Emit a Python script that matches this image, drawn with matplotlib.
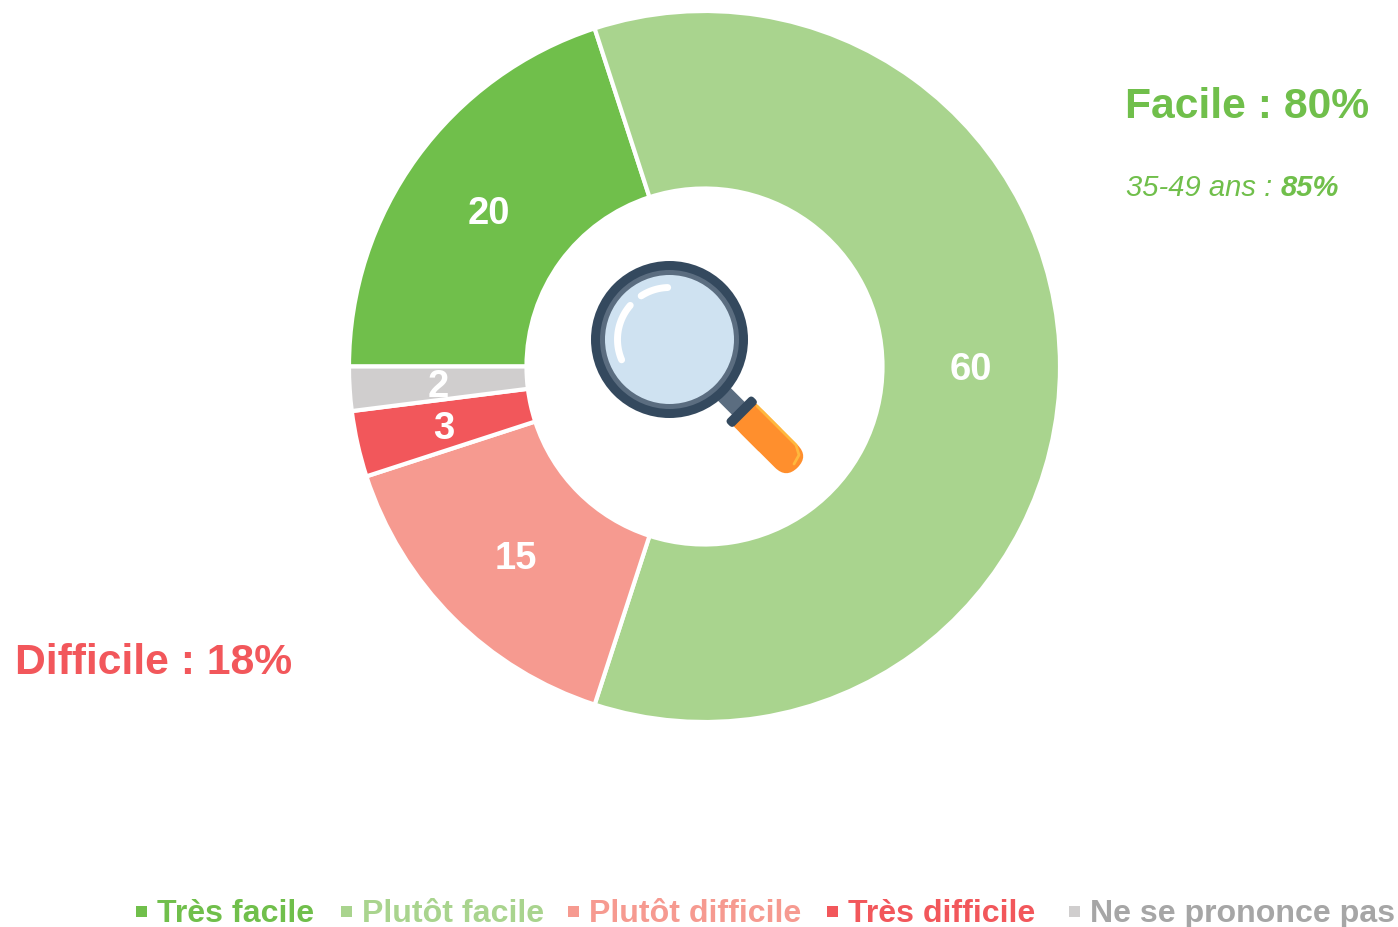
import numpy as np
import matplotlib
matplotlib.use("Agg")
import matplotlib.pyplot as plt
from matplotlib.patches import Circle, FancyBboxPatch, Wedge
from matplotlib.transforms import Affine2D

labels = ["Très facile", "Plutôt facile", "Plutôt difficile", "Très difficile", "Ne se prononce pas"]
values = [20, 60, 15, 3, 2]
colors = ["#70BF4B", "#A9D48E", "#F69A90", "#F2575B", "#D0CECE"]
text_colors = ["#70BF4B", "#A9D48E", "#F69A90", "#F2575B", "#A6A6A6"]
legend_x = [136, 341, 568, 827, 1069]

plt.rcParams["font.family"] = ["Liberation Sans", "DejaVu Sans"]

W, H = 1398, 927
fig = plt.figure(figsize=(W / 100, H / 100), dpi=100)
ax = fig.add_axes([0, 0, 1, 1])
ax.set_xlim(0, W)
ax.set_ylim(H, 0)
ax.axis("off")

# donut, y is flipped so the angles run clockwise
cx, cy, R, r = 704.5, 366.5, 355.5, 178
start = 180
for i, v in enumerate(values):
    end = start + v * 3.6
    ax.add_patch(Wedge((cx, cy), R, start, end, width=R - r, facecolor=colors[i],
                       edgecolor="white", linewidth=3))
    start = end

val_x = [489, 971, 516, 444, 438]
val_y = [214, 370, 559, 429, 387]
for i, v in enumerate(values):
    ax.text(val_x[i], val_y[i], str(v), color="white", fontsize=27.5, fontweight="bold",
            ha="center", va="center")

# magnifier
hx, hy = 741.7, 411.7
rot = Affine2D().rotate_deg_around(hx, hy, 45) + ax.transData
ax.add_patch(FancyBboxPatch((hx - 25, hy - 9), 25, 18, boxstyle="square,pad=0", fc="#5B6D80", ec="none", transform=rot))
ax.add_patch(FancyBboxPatch((hx, hy - 16), 79, 32, boxstyle="round,pad=0,rounding_size=16", fc="#FF8F2D", ec="none", transform=rot))
ax.add_patch(FancyBboxPatch((hx, hy - 16), 40, 32, boxstyle="square,pad=0", fc="#FF8F2D", ec="none", transform=rot))
ax.add_patch(FancyBboxPatch((hx - 5, hy - 18.5), 10, 37, boxstyle="round,pad=0,rounding_size=4", fc="#34495E", ec="none", transform=rot))
ax.plot([757, 796, 799, 794], [406, 445, 455, 464], color="#FFB83D", lw=2, solid_capstyle="round")
ax.add_patch(Circle((669.5, 339.5), 78.5, fc="#34495E", ec="none"))
ax.add_patch(Circle((669.5, 339.5), 69.5, fc="#5B6D80", ec="none"))
ax.add_patch(Circle((669.5, 339.5), 64.5, fc="#CFE2F1", ec="none"))
for a1, a2 in [(157, 221), (237, 268)]:
    th = np.radians(np.linspace(a1, a2, 30))
    ax.plot(669.5 + 52 * np.cos(th), 339.5 + 52 * np.sin(th), color="white", lw=5, solid_capstyle="round")

# annotations
ax.text(1125, 107, "Facile : 80%", color=colors[0], fontsize=30.7, fontweight="bold", va="center")
t = ax.text(1126, 188, "35-49 ans : ", color=colors[0], fontsize=21, style="italic", va="center")
ax.annotate("85%", xy=(1, 0.5), xycoords=t, color=colors[0], fontsize=21, style="italic",
            fontweight="bold", va="center")
ax.text(15, 663, "Difficile : 18%", color=colors[3], fontsize=30.7, fontweight="bold", va="center")

# legend
for i, lab in enumerate(labels):
    ax.add_patch(plt.Rectangle((legend_x[i], 906), 11, 11, fc=colors[i], ec="none"))
    ax.text(legend_x[i] + 21, 914, lab, color=text_colors[i], fontsize=23.1, fontweight="bold", va="center")

fig.savefig("out.png", dpi=100)
